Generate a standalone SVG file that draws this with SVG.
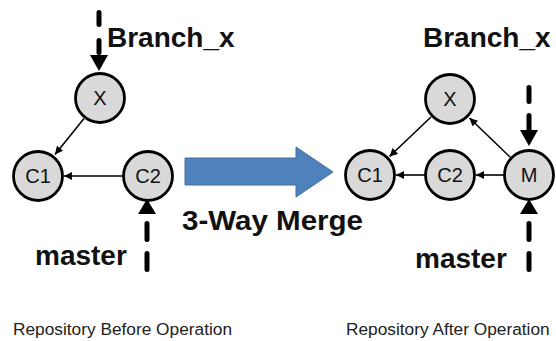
<svg xmlns="http://www.w3.org/2000/svg" width="556" height="341" viewBox="0 0 556 341">
<defs>
<style>
.node circle{fill:#d9d9d9;stroke:#000;stroke-width:2.8}
.node text{font-family:"Liberation Sans",Arial,sans-serif;font-size:20px;text-anchor:middle;fill:#111}
.edge{stroke:#000;stroke-width:1.6;fill:none;marker-end:url(#ah)}
.ptr{stroke:#000;stroke-width:5;fill:none;stroke-linecap:round}
.head{fill:#000}
.lbl{font-family:"Liberation Sans",Arial,sans-serif;font-weight:bold;font-size:28px;fill:#111}
.cap{font-family:"Liberation Sans",Arial,sans-serif;font-size:17.3px;fill:#222}
</style>
<marker id="ah" viewBox="0 0 10 10" refX="10" refY="5" markerWidth="9" markerHeight="8" markerUnits="userSpaceOnUse" orient="auto">
<path d="M0,0 L10,5 L0,10 z" fill="#000"/>
</marker>
</defs>
<rect width="556" height="341" fill="#fff"/>

<g id="connectors">
<line class="edge" x1="123" y1="176" x2="64" y2="176"/>
<line class="edge" x1="84" y1="118.5" x2="55" y2="154.5"/>
<line class="edge" x1="425" y1="175" x2="396" y2="175"/>
<line class="edge" x1="504" y1="175" x2="476" y2="175"/>
<line class="edge" x1="431" y1="117" x2="389.5" y2="156.5"/>
<line class="edge" x1="510" y1="157" x2="469.5" y2="118"/>
<path class="ptr" d="M99 12.5 V56" stroke-dasharray="12 16"/>
<polygon class="head" points="90,55 108,55 99,71"/>
<path class="ptr" d="M147 269.5 V222" stroke-dasharray="16 14"/>
<polygon class="head" points="138,214 156,214 147,199"/>
<path class="ptr" d="M529 87.5 V131" stroke-dasharray="14 14"/>
<polygon class="head" points="520,130 538,130 529,146"/>
<path class="ptr" d="M529 269.5 V222" stroke-dasharray="16 14"/>
<polygon class="head" points="520,214 538,214 529,199"/>
</g>

<g id="node-left-X" class="node"><circle cx="100" cy="98" r="24.5"/><text x="100" y="105">X</text></g>
<g id="node-left-C1" class="node"><circle cx="38" cy="176" r="24.5"/><text x="38" y="183">C1</text></g>
<g id="node-left-C2" class="node"><circle cx="148" cy="176" r="24.5"/><text x="148" y="183">C2</text></g>

<g id="node-right-X" class="node"><circle cx="450" cy="99" r="24.5"/><text x="450" y="106">X</text></g>
<g id="node-right-C1" class="node"><circle cx="370" cy="175" r="24.5"/><text x="370" y="182">C1</text></g>
<g id="node-right-C2" class="node"><circle cx="450" cy="175" r="24.5"/><text x="450" y="182">C2</text></g>
<g id="node-right-M" class="node"><circle cx="529" cy="175" r="24.5"/><text x="529" y="182">M</text></g>

<g id="merge-arrow">
<polygon points="185,158 296,158 296,147 333,172 296,197 296,185 185,185" fill="#4f81bd" stroke="#41719c" stroke-width="1"/>
</g>

<g id="labels">
<text class="lbl" x="107" y="47">Branch_x</text>
<text class="lbl" x="423" y="47">Branch_x</text>
<text class="lbl" x="35" y="265">master</text>
<text class="lbl" x="415" y="268">master</text>
<text class="lbl" x="182" y="230" textLength="181" lengthAdjust="spacingAndGlyphs">3-Way Merge</text>
<text class="cap" x="13" y="335">Repository Before Operation</text>
<text class="cap" x="346" y="335">Repository After Operation</text>
</g>
</svg>
